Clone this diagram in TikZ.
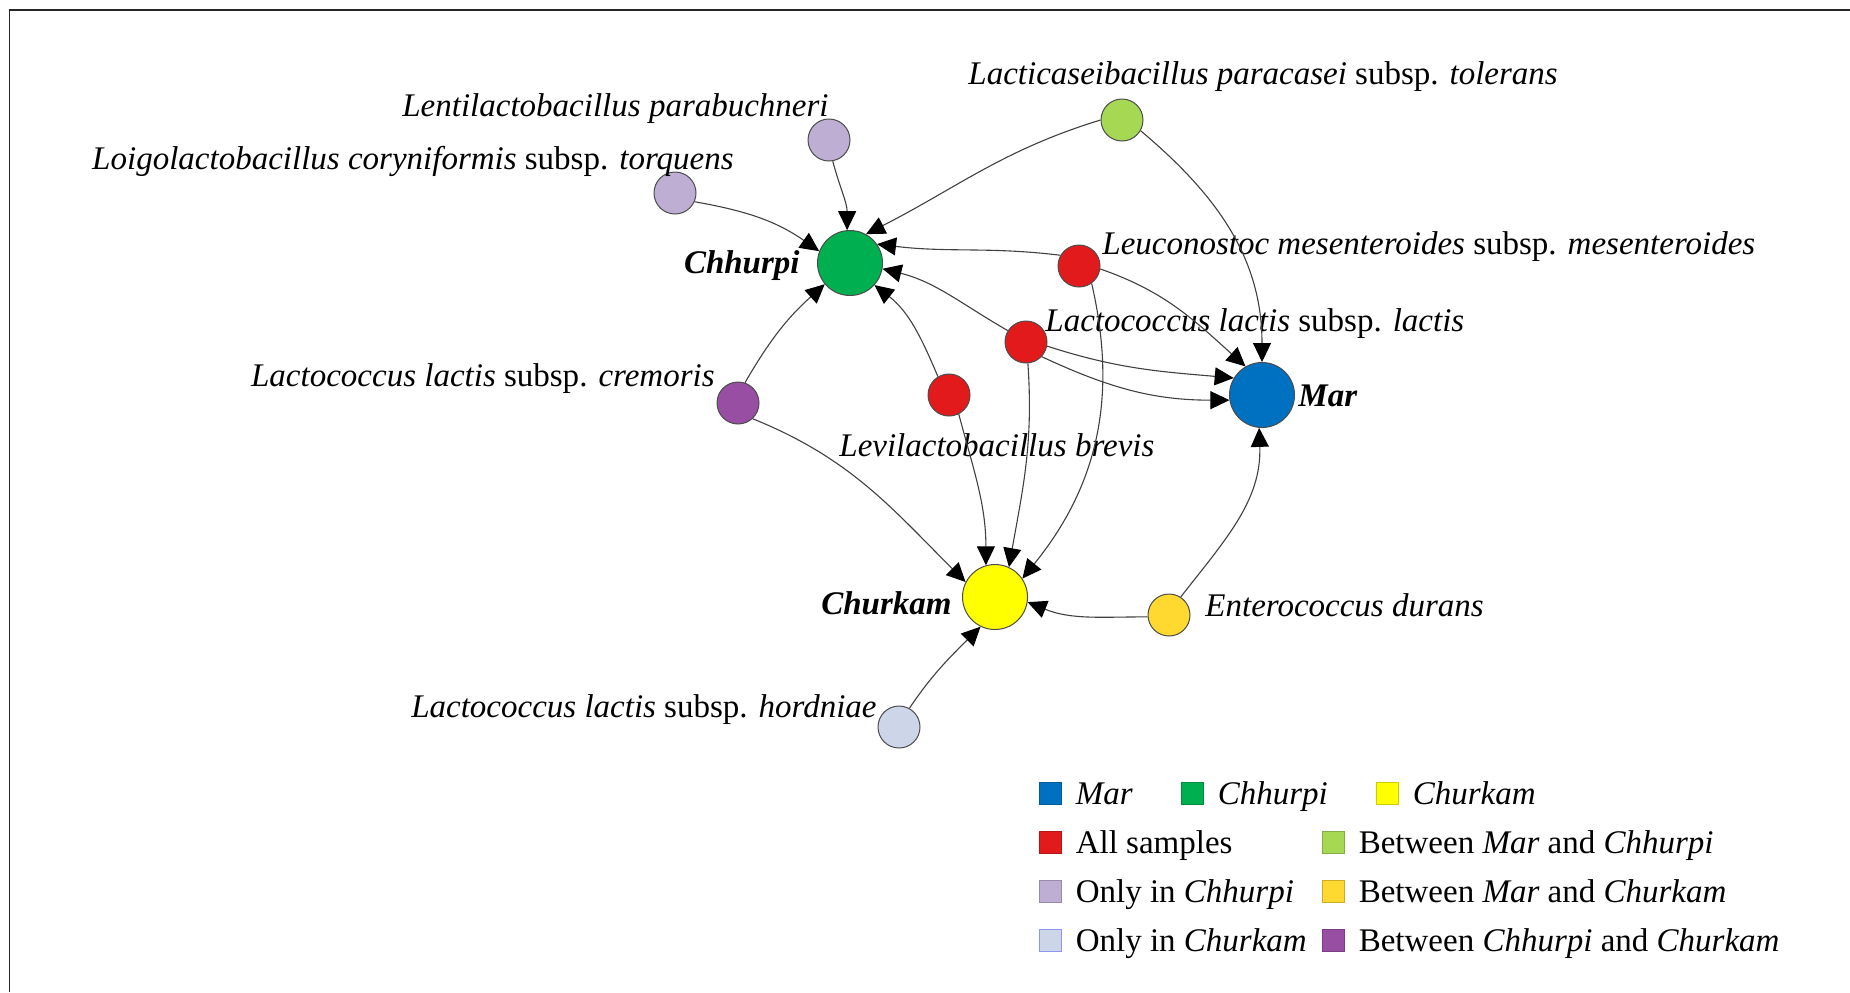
\documentclass[tikz,border=0pt]{standalone}
\usepackage{fontspec}
\setmainfont{Liberation Serif}
\usetikzlibrary{arrows.meta, positioning}
\definecolor{marblue}   {RGB}{0,   112, 192}
\definecolor{chhgreen}  {RGB}{0,   176,  80}
\definecolor{chkyellow} {RGB}{255, 255,   0}
\definecolor{allred}    {RGB}{227,  26,  28}
\definecolor{mcgreen}   {RGB}{166, 216,  84}
\definecolor{onlychh}   {RGB}{190, 174, 212}
\definecolor{mkgold}    {RGB}{255, 217,  47}
\definecolor{onlychk}   {RGB}{204, 214, 232}
\definecolor{ccpurple}  {RGB}{152,  78, 163}
\tikzset{
	hub/.style={circle, draw=black!70, line width=0.5pt, minimum size=32.5pt, inner sep=0pt},
	taxon/.style={circle, draw=black!70, line width=0.5pt, minimum size=21pt, inner sep=0pt},
	lbl/.style={inner sep=0pt, text height=12.75pt, text depth=1.75pt, font=\fontsize{16.5}{19}\selectfont},
	hublbl/.style={lbl, font=\fontsize{16.5}{19}\selectfont\bfseries\itshape},
	link/.style={draw=black!75, line width=0.55pt, -{Triangle[length=9.5pt,width=9pt,color=black]}},
	key/.style={rectangle, minimum size=11pt, inner sep=0pt, line width=0.4pt}
}
\begin{document}
\begin{tikzpicture}[x=0.5pt,y=0.5pt]
	\useasboundingbox (0,0) rectangle (1850,-992);
	\draw[line width=0.9pt, black!85] (9.5,-992) -- (9.5,-10) -- (1850,-10);
	% sample hubs
	\node[hub, fill=marblue]   (mar) at (1262,-395) {};
	\node[hub, fill=chhgreen]  (chh) at (850,-263) {};
	\node[hub, fill=chkyellow] (chk) at (995,-597) {};
	\node[hublbl, anchor=west] (martxt) at (1298,-395) {Mar};
	\node[hublbl, anchor=east] (chhtxt) at (800,-262) {Chhurpi};
	\node[hublbl, anchor=east] (chktxt) at (952,-603) {Churkam};
	% taxa
	\node[taxon, fill=onlychh]  (para) at (829,-140) {};
	\node[taxon, fill=onlychh]  (cory) at (675,-193) {};
	\node[taxon, fill=mcgreen]  (tol)  at (1122,-120) {};
	\node[taxon, fill=allred]   (leu)  at (1079,-266) {};
	\node[taxon, fill=allred]   (lac)  at (1026,-342) {};
	\node[taxon, fill=allred]   (bre)  at (949,-395) {};
	\node[taxon, fill=ccpurple] (cre)  at (738,-403) {};
	\node[taxon, fill=mkgold]   (dur)  at (1169,-615) {};
	\node[taxon, fill=onlychk]  (hor)  at (899,-727) {};
	\node[lbl, anchor=east] (paratxt) at (829,-105) {\textit{Lentilactobacillus parabuchneri}};
	\node[lbl, anchor=east] (corytxt) at (734,-158) {\textit{Loigolactobacillus coryniformis} subsp. \textit{torquens}};
	\node[lbl, anchor=west] (toltxt)  at (968,-73)  {\textit{Lacticaseibacillus paracasei} subsp. \textit{tolerans}};
	\node[lbl, anchor=west] (leutxt)  at (1102,-243) {\textit{Leuconostoc mesenteroides} subsp. \textit{mesenteroides}};
	\node[lbl, anchor=west] (lactxt)  at (1045,-320) {\textit{Lactococcus lactis} subsp. \textit{lactis}};
	\node[lbl, anchor=west] (bretxt)  at (839,-445) {\textit{Levilactobacillus brevis}};
	\node[lbl, anchor=east] (cretxt)  at (715,-375) {\textit{Lactococcus lactis} subsp. \textit{cremoris}};
	\node[lbl, anchor=west] (durtxt)  at (1205,-605) {\textit{Enterococcus durans}};
	\node[lbl, anchor=east] (hortxt)  at (877,-706) {\textit{Lactococcus lactis} subsp. \textit{hordniae}};
	% shared taxa
	\draw[link] (para.-80) to[out=-75,in=90] (chh.95);
	\draw[link] (cory.-24) to[out=-10,in=145] (chh.159);
	\draw[link] (tol.180) to[out=197,in=27] (chh.61);
	\draw[link] (tol.-30) to[out=-40,in=90] (mar.90);
	\draw[link] (leu.150) to[out=173,in=-7] (chh.35);
	\draw[link] (leu.-8) to[out=-19,in=138] (mar.120);
	\draw[link] (leu.-54) to[out=-77,in=51] (chk.34);
	\draw[link] (lac.148) to[out=150,in=-14] (chh.-10);
	\draw[link] (lac.-11) to[out=-18,in=175] (mar.149);
	\draw[link] (lac.-43) to[out=-25,in=180] (mar.-171);
	\draw[link] (lac.-85) to[out=-86,in=80] (chk.65);
	\draw[link] (bre.-63) to[out=-75,in=90] (chk.106);
	\draw[link] (bre.121) to[out=113,in=-38] (chh.-42);
	\draw[link] (cre.71) to[out=60,in=222] (chh.220);
	\draw[link] (cre.-47) to[out=-22,in=135] (chk.153);
	\draw[link] (dur.185) to[out=180,in=-22] (chk.-9);
	\draw[link] (dur.57) to[out=52,in=-88] (mar.-95);
	\draw[link] (hor.61) to[out=56,in=225] (chk.-116);
	% legend
	\node[key, fill=marblue, draw=marblue!80!black]    (kmar) at (1050,-793) {};
	\node[lbl, right=7pt of kmar] (lmar) {\textit{Mar}};
	\node[key, fill=chhgreen, draw=chhgreen!80!black]  (kchh) at (1192,-793) {};
	\node[lbl, right=7pt of kchh] (lchh) {\textit{Chhurpi}};
	\node[key, fill=chkyellow, draw=chkyellow!80!black] (kchk) at (1387,-793) {};
	\node[lbl, right=7pt of kchk] (lchk) {\textit{Churkam}};
	\node[key, fill=allred, draw=allred!80!black]      (kall) at (1050,-842) {};
	\node[lbl, right=7pt of kall] (lall) {All samples};
	\node[key, fill=mcgreen, draw=mcgreen!80!black]    (kmc) at (1333,-842) {};
	\node[lbl, right=7pt of kmc] (lmc) {Between \textit{Mar} and \textit{Chhurpi}};
	\node[key, fill=onlychh, draw=onlychh!80!black]    (koch) at (1050,-891) {};
	\node[lbl, right=7pt of koch] (loch) {Only in \textit{Chhurpi}};
	\node[key, fill=mkgold, draw=mkgold!80!black]      (kmk) at (1333,-891) {};
	\node[lbl, right=7pt of kmk] (lmk) {Between \textit{Mar} and \textit{Churkam}};
	\node[key, fill=onlychk, draw=onlychk!70!blue]     (kock) at (1050,-940) {};
	\node[lbl, right=7pt of kock] (lock) {Only in \textit{Churkam}};
	\node[key, fill=ccpurple, draw=ccpurple!80!black]  (kcc) at (1333,-940) {};
	\node[lbl, right=7pt of kcc] (lcc) {Between \textit{Chhurpi} and \textit{Churkam}};
\end{tikzpicture}
\end{document}
